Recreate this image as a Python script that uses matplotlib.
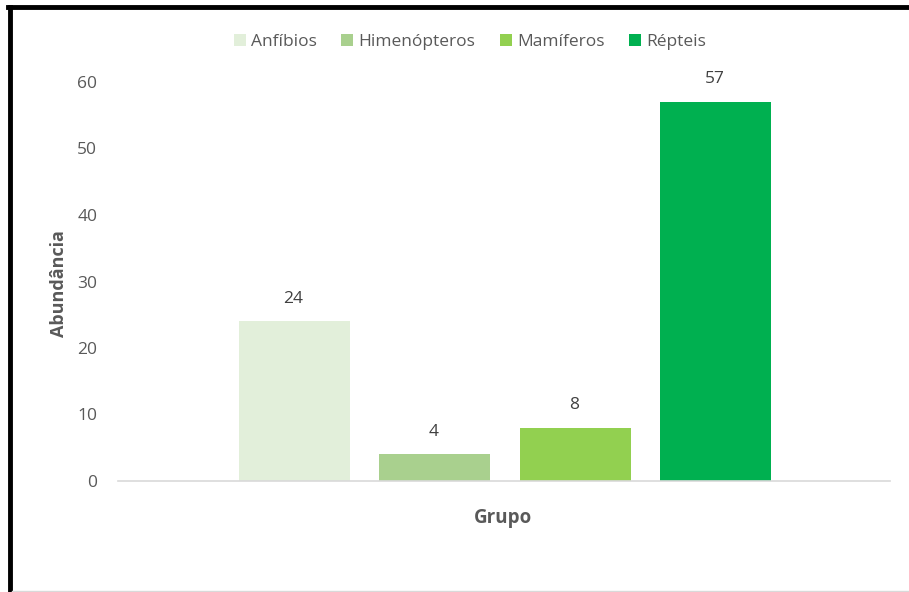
import matplotlib.pyplot as plt
from matplotlib.lines import Line2D

grupos = ["Anfíbios", "Himenópteros", "Mamíferos", "Répteis"]
abundancia = [24, 4, 8, 57]
cores = ["#E2EFDA", "#A9D08E", "#92D050", "#00B050"]
posicoes = [-1.5, -0.5, 0.5, 1.5]

plt.rcParams['font.family'] = ['Open Sans', 'DejaVu Sans']

fig = plt.figure(figsize=(9.09, 5.92), dpi=100)
ax = fig.add_axes([118 / 909, 1 - 481 / 592, (890 - 118) / 909, (481 - 82) / 592])

for p, v, c, g in zip(posicoes, abundancia, cores, grupos):
    ax.bar(p + 0.007, v, width=0.79, color=c, label=g, zorder=2)
    ax.text(p, v + 2.2, str(v), ha='center', va='bottom', fontsize=12.5, color='#404040')

ax.set_xlim(-2.747, 2.747)
ax.set_ylim(0, 60)
ax.set_yticks(range(0, 61, 10))
ax.set_xticks([])
ax.tick_params(axis='y', length=0, labelsize=12.5, labelcolor='#595959', pad=15)
for s in ['top', 'right', 'left']:
    ax.spines[s].set_visible(False)
ax.spines['bottom'].set_color('#D9D9D9')
ax.spines['bottom'].set_linewidth(1.2)

fig.text(59 / 909, 1 - 284 / 592, "Abundância", rotation=90, ha='center', va='center',
         fontsize=13, fontweight='bold', color='#595959')
fig.text(503 / 909, 1 - 518 / 592, "Grupo", ha='center', va='center',
         fontsize=13.5, fontweight='bold', color='#595959')

leg = fig.legend(loc='center', bbox_to_anchor=(470 / 909, 1 - 42 / 592), ncol=4, frameon=False,
                 fontsize=12.5, handlelength=0.7, handleheight=0.7, handletextpad=0.3,
                 columnspacing=1.4, labelcolor='#595959')

# moldura
fig.add_artist(Line2D([10 / 909, 10 / 909], [0, 1 - 7 / 592], transform=fig.transFigure,
                      color='black', linewidth=3.5))
fig.add_artist(Line2D([8 / 909, 1], [1 - 7 / 592, 1 - 7 / 592], transform=fig.transFigure,
                      color='black', linewidth=3.5))
fig.add_artist(Line2D([12 / 909, 1], [1 / 592, 1 / 592], transform=fig.transFigure,
                      color='#D9D9D9', linewidth=1))

fig.savefig("out.png", dpi=100)
